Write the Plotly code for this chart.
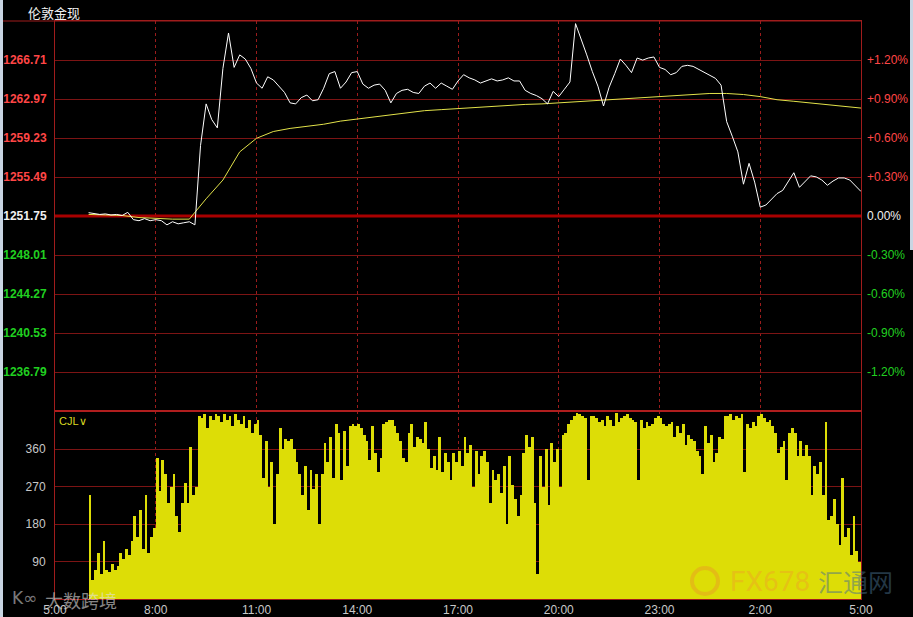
import plotly.graph_objects as go

# London spot gold intraday, 6:00 -> 5:00 next day (hours counted from 5:00)
price = [
    1252.07, 1252.0, 1251.9, 1251.95, 1251.85, 1251.9,
    1251.8, 1252.1, 1251.4, 1251.3, 1251.5, 1251.3,
    1251.4, 1251.3, 1250.9, 1251.2, 1251.0, 1251.1,
    1251.2, 1250.9, 1258.5, 1262.5, 1261.0, 1260.2,
    1265.9, 1269.3, 1266.0, 1267.2, 1266.8, 1265.9,
    1264.5, 1264.0, 1265.1, 1264.8, 1264.2, 1263.6,
    1262.6, 1262.5, 1263.1, 1263.35, 1262.8, 1262.9,
    1264.0, 1265.4, 1265.6, 1264.0, 1264.6, 1265.5,
    1265.6, 1264.4, 1264.0, 1264.3, 1264.4, 1263.8,
    1262.6, 1263.5, 1263.8, 1263.9, 1263.6, 1263.5,
    1264.2, 1264.5, 1264.0, 1264.5, 1264.2, 1263.9,
    1264.7, 1265.3, 1265.0, 1264.8, 1264.5, 1264.7,
    1264.9, 1264.7, 1264.8, 1265.0, 1264.7, 1264.7,
    1263.8, 1263.5, 1263.3, 1263.0, 1262.5, 1263.7,
    1263.2, 1263.9, 1264.6, 1270.2, 1268.8, 1267.2,
    1265.6, 1264.2, 1262.3, 1264.1, 1265.4, 1266.8,
    1266.2, 1265.5, 1266.9, 1266.7, 1266.9, 1267.0,
    1266.0, 1265.8, 1265.3, 1265.5, 1266.1, 1266.2,
    1266.1, 1265.8, 1265.5, 1265.2, 1264.95, 1264.3,
    1260.8, 1259.4, 1257.9, 1254.8, 1256.8, 1255.0,
    1252.6, 1252.8, 1253.4, 1253.9, 1254.2, 1255.0,
    1255.9, 1254.5, 1255.1, 1255.6, 1255.5, 1255.2,
    1254.7, 1255.1, 1255.4, 1255.4, 1255.2, 1254.7,
    1254.1,
]

avg_price = [
    1251.9, 1251.85, 1251.8, 1251.6, 1251.5, 1251.45, 1251.45, 1253.4,
    1255.2, 1257.9, 1259.2, 1259.85, 1260.15, 1260.35, 1260.55, 1260.85,
    1261.05, 1261.3, 1261.5, 1261.7, 1261.85, 1261.95, 1262.05, 1262.15,
    1262.3, 1262.4, 1262.45, 1262.5, 1262.6, 1262.75, 1262.85, 1262.95,
    1263.0, 1263.1, 1263.25, 1263.35, 1263.45, 1263.5, 1263.5, 1263.4,
    1263.2, 1262.9, 1262.75, 1262.6, 1262.45, 1262.3, 1262.1,
]

# 5-minute volume (CJL)
volume = [
    250, 45, 70, 110, 60, 140, 70, 65, 85, 70, 80, 110,
    95, 120, 105, 140, 200, 150, 215, 120, 250, 110, 150, 170,
    340, 260, 335, 300, 230, 270, 300, 200, 160, 230, 280, 230,
    365, 250, 270, 440, 435, 445, 410, 440, 430, 445, 440, 425,
    445, 430, 440, 415, 445, 430, 420, 440, 410, 430, 400, 420,
    430, 395, 290, 380, 270, 330, 180, 300, 410, 360, 385, 380,
    385, 360, 330, 300, 250, 320, 215, 310, 265, 300, 180, 300,
    375, 330, 390, 290, 420, 400, 285, 405, 320, 415, 420, 415,
    420, 410, 395, 380, 335, 415, 350, 305, 340, 420, 425, 430,
    430, 415, 400, 380, 340, 330, 400, 420, 365, 390, 385, 375,
    425, 360, 315, 345, 310, 390, 305, 350, 330, 285, 350, 330,
    355, 320, 390, 350, 370, 270, 355, 300, 345, 355, 330, 230,
    310, 285, 300, 255, 320, 180, 345, 275, 240, 200, 250, 350,
    395, 365, 390, 230, 60, 345, 270, 360, 225, 375, 330, 360,
    270, 395, 400, 420, 430, 440, 447, 445, 440, 435, 285, 440,
    440, 435, 425, 430, 415, 440, 430, 415, 447, 425, 435, 440,
    445, 435, 430, 425, 285, 430, 410, 425, 415, 420, 435, 440,
    435, 420, 415, 420, 425, 390, 415, 400, 420, 370, 395, 385,
    380, 355, 345, 300, 415, 375, 395, 330, 350, 390, 385, 440,
    440, 445, 430, 440, 435, 445, 305, 420, 410, 425, 415, 440,
    445, 435, 425, 430, 415, 400, 350, 365, 380, 285, 400, 410,
    400, 345, 380, 345, 370, 345, 250, 320, 300, 330, 250, 425,
    190, 200, 240, 180, 130, 290, 150, 170, 105, 200, 115, 90,
]

price_ticks = [1236.79, 1240.53, 1244.27, 1248.01, 1251.75, 1255.49, 1259.23, 1262.97, 1266.71]
price_labels = ["1236.79", "1240.53", "1244.27", "1248.01", "1251.75",
                "1255.49", "1259.23", "1262.97", "1266.71"]
pct_labels = ["-1.20%", "-0.90%", "-0.60%", "-0.30%", "0.00%",
              "+0.30%", "+0.60%", "+0.90%", "+1.20%"]
vol_ticks = [90, 180, 270, 360]
time_ticks = [0, 3, 6, 9, 12, 15, 18, 21, 24]
time_labels = ["5:00", "8:00", "11:00", "14:00", "17:00", "20:00", "23:00", "2:00", "5:00"]

price_hours = [1 + i / 6 for i in range(len(price))]
avg_hours = [1 + i / 2 for i in range(len(avg_price))]
vol_hours = [1 + (5 * i + 2.5) / 60 for i in range(len(volume))]

RED = "#ff4646"
GREEN = "#20d020"
WHITE = "#f0f0f0"
GRID = "#7c1414"
BORDER = "#a01c1c"
FONT = "Liberation Sans, Arial, sans-serif"


def tick_colour(i):
    if i > 4:
        return RED
    if i < 4:
        return GREEN
    return WHITE


left_text = [f"<span style='color:{tick_colour(i)}'><b>{t}</b></span>" for i, t in enumerate(price_labels)]
right_text = [f"<span style='color:{tick_colour(i)}'>{t}</span>" for i, t in enumerate(pct_labels)]

split = 188 / 578  # volume panel share of plot height

fig = go.Figure()
fig.add_trace(go.Bar(
    x=vol_hours, y=volume, width=5 / 60, xaxis="x2", yaxis="y3",
    marker=dict(color="#dddd06", line_width=0), hoverinfo="skip",
))
fig.add_trace(go.Scatter(
    x=avg_hours, y=avg_price, mode="lines", xaxis="x", yaxis="y",
    line=dict(color="#e2e24a", width=1),
))
fig.add_trace(go.Scatter(
    x=price_hours, y=price, mode="lines", xaxis="x", yaxis="y",
    line=dict(color="#ffffff", width=1),
))
# invisible trace so the right-hand percent axis is drawn
fig.add_trace(go.Scatter(
    x=price_hours, y=price, mode="lines", xaxis="x", yaxis="y2",
    line=dict(width=0), opacity=0, hoverinfo="skip",
))

axis_common = dict(showline=True, mirror=True, linecolor=BORDER, linewidth=1,
                   zeroline=False, ticks="", fixedrange=True, automargin=False)

fig.update_layout(
    width=913, height=617, autosize=False,
    margin=dict(l=55, r=52, t=21, b=18, pad=0),
    paper_bgcolor="black", plot_bgcolor="black",
    showlegend=False, bargap=0,
    font=dict(family=FONT, size=12, color="#c8c8c8"),
    xaxis=dict(domain=[0, 1], anchor="y", range=[0, 24],
               tickvals=time_ticks[1:-1], showticklabels=False,
               showgrid=True, gridcolor="#9a1c1c", griddash="dot", gridwidth=1,
               **axis_common),
    xaxis2=dict(domain=[0, 1], anchor="y3", range=[0, 24], matches="x",
                tickvals=time_ticks, ticktext=time_labels,
                tickfont=dict(size=12, color="#c8c8c8"),
                showgrid=True, gridcolor="#9a1c1c", griddash="dot", gridwidth=1,
                **axis_common),
    yaxis=dict(domain=[split, 1], anchor="x", range=[1233.05, 1270.45],
               tickvals=price_ticks, ticktext=left_text, ticklabelstandoff=5,
               tickfont=dict(size=12),
               showgrid=True, gridcolor=GRID, gridwidth=1, **axis_common),
    yaxis2=dict(overlaying="y", side="right", anchor="x", range=[1233.05, 1270.45],
                tickvals=price_ticks, ticktext=right_text, ticklabelstandoff=5,
                tickfont=dict(size=12), showgrid=False, automargin=False,
                showline=False, zeroline=False, ticks="", fixedrange=True),
    yaxis3=dict(domain=[0, split], anchor="x2", range=[0, 452],
                tickvals=vol_ticks, ticklabelstandoff=6,
                tickfont=dict(size=12, color="#c8c8c8"),
                showgrid=True, gridcolor=GRID, gridwidth=1, **axis_common),
)

px = lambda v: (v - 55) / 806   # pixel x -> paper x
py = lambda v: (599 - v) / 578  # pixel y -> paper y

fig.add_shape(type="line", xref="x", yref="y", x0=0, x1=24, y0=1251.75, y1=1251.75,
              line=dict(color="#a80000", width=3), layer="between")
fig.add_shape(type="line", xref="paper", yref="paper", x0=0, x1=1, y0=split, y1=split,
              line=dict(color="#b01e1e", width=2))
fig.add_shape(type="line", xref="paper", yref="paper", x0=px(3), x1=1, y0=1, y1=1,
              line=dict(color=BORDER, width=1))
fig.add_shape(type="rect", xref="paper", yref="paper", x0=px(0), x1=px(3), y0=py(617), y1=py(0),
              fillcolor="#c9d5e2", line_width=0)
fig.add_shape(type="rect", xref="paper", yref="paper", x0=px(910), x1=px(913), y0=py(250), y1=py(0),
              fillcolor="#c9d5e2", line_width=0)
# watermark logo ring
fig.add_shape(type="circle", xref="paper", yref="paper", x0=px(692), x1=px(718), y0=py(594), y1=py(568),
              line=dict(color="rgba(235,150,40,0.45)", width=4))


def label(text, x, y, font, anchor="center"):
    fig.add_annotation(text=text, xref="paper", yref="paper", x=px(x), y=py(y),
                       xanchor=anchor, yanchor="middle", showarrow=False, font=font)


label("伦敦金现", 54, 12, dict(family="Noto Sans CJK SC", size=13, color="#f2f2f2"))
label("CJL∨", 57, 421, dict(family=FONT, size=11, color="#d8d820"), anchor="left")
label("K∞", 24, 598, dict(family="DejaVu Sans", size=17, color="rgba(225,225,225,0.55)"))
label("大数跨境", 81, 600, dict(family="Noto Sans CJK SC", size=18, color="rgba(225,225,225,0.6)"))
label("FX678", 770, 581, dict(family="Roboto", size=28, color="rgba(240,160,40,0.45)"))
label("汇通网", 855, 581, dict(family="Noto Sans CJK SC", size=25, color="rgba(70,110,140,0.5)"))

# the page's default body margin would push the fixed-size figure off the window
fig.write_html("out.html", config={"displayModeBar": False},
               post_script="document.body.style.margin='0';")
